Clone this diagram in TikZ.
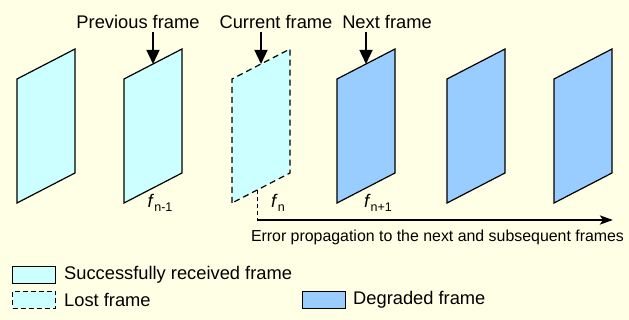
\documentclass[tikz,border=0pt]{standalone}
\usepackage{fontspec}
\setmainfont{Liberation Sans}
\usetikzlibrary{arrows.meta}
\definecolor{bgyellow}{RGB}{255,255,229}
\definecolor{okcyan}{RGB}{204,255,255}
\definecolor{degblue}{RGB}{153,204,255}
\tikzset{
  frameok/.style={draw=black, fill=okcyan, line width=1.2pt, line join=miter},
  framelost/.style={draw=black, fill=okcyan, line width=1.2pt, dash pattern=on 6pt off 4pt},
  framedeg/.style={draw=black, fill=degblue, line width=1.2pt, line join=miter},
  toptext/.style={anchor=base, inner sep=0pt, font=\fontsize{18.3}{22}\selectfont},
  pointer/.style={line width=1.4pt, -{Triangle[length=14pt,width=13pt]}},
  flabel/.style={anchor=base, inner sep=0pt, font=\fontsize{18.3}{22}\selectfont},
  errtext/.style={anchor=base, inner sep=0pt, font=\fontsize{15.9}{19}\selectfont},
  legtext/.style={anchor=west, inner sep=0pt, font=\fontsize{18.3}{22}\selectfont},
  legbox/.style={minimum width=43pt, minimum height=17pt, inner sep=0pt, line width=1.2pt}
}
\newcommand{\fsub}[1]{\textit{f}\raisebox{-4pt}{\fontsize{12.5}{12.5}\selectfont #1}}
\begin{document}
\begin{tikzpicture}[x=1pt,y=1pt]
  \fill[bgyellow] (0,0) rectangle (629,320);
  \useasboundingbox (0,0) rectangle (629,320);
  % frames
  \foreach \L/\st/\nm in {17/frameok/f1, 124/frameok/f2, 232/framelost/f3, 337/framedeg/f4, 447/framedeg/f5, 554/framedeg/f6}{
    \draw[\st] (\L,117) -- (\L,241) -- (\L+58,271) -- (\L+58,147) -- cycle;
    \coordinate (\nm top) at (\L+29,256);
  }
  % top labels and pointers
  \node[toptext] (prev) at (138,291) {Previous frame};
  \node[toptext] (curr) at (276,291) {Current frame};
  \node[toptext] (next) at (387,291) {Next frame};
  \coordinate (prevs) at (153,288);
  \coordinate (currs) at (261,288);
  \coordinate (nexts) at (366,288);
  \draw[pointer] (prevs) -- (f2top);
  \draw[pointer] (currs) -- (f3top);
  \draw[pointer] (nexts) -- (f4top);
  % frame labels
  \node[flabel] (ln1) at (160,112) {\fsub{n-1}};
  \node[flabel] (ln) at (278,112) {\fsub{n}};
  \node[flabel] (lnp1) at (378,112) {\fsub{n+1}};
  % propagation
  \coordinate (dtop) at (257,130);
  \coordinate (corner) at (257,100);
  \coordinate (aend) at (613,100);
  \draw[line width=0.9pt, dash pattern=on 4pt off 3pt] (dtop) -- (corner);
  \draw[line width=2.5pt, -{Stealth[length=13pt,width=9pt,inset=3pt]}] (corner) -- (aend);
  \node[errtext] (err) at (437.5,78) {Error propagation to the next and subsequent frames};
  % legend
  \node[legbox, draw=black, fill=okcyan, anchor=south west] (lb1) at (12,36) {};
  \node[legtext] (lt1) at (64,45) {Successfully received frame};
  \node[legbox, draw=black, fill=okcyan, dash pattern=on 5pt off 3pt, anchor=south west] (lb2) at (12,11) {};
  \node[legtext] (lt2) at (64,20) {Lost frame};
  \node[legbox, draw=black, fill=degblue, anchor=south west] (lb3) at (302,11) {};
  \node[legtext] (lt3) at (353,20) {Degraded frame};
\end{tikzpicture}
\end{document}
